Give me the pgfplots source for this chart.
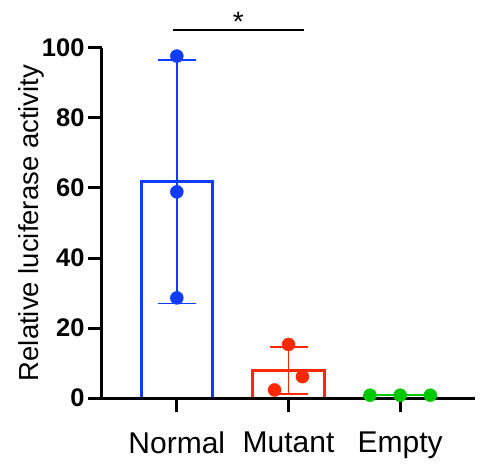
\documentclass[border=0pt]{standalone}
\usepackage{pgfplots}
\pgfplotsset{compat=1.18}
\usepackage{fontspec}
\setmainfont{Liberation Sans}
\definecolor{nblue}{RGB}{15,60,255}
\definecolor{mred}{RGB}{255,40,0}
\definecolor{egreen}{RGB}{0,200,0}
\begin{document}
\begin{tikzpicture}
\path[use as bounding box] (-102pt,-71pt) rectangle (385pt,398pt);
\begin{axis}[
  scale only axis, width=373pt, height=350pt,
  xmin=-0.67, xmax=2.67, ymin=0, ymax=100,
  axis x line=bottom, axis y line=left, axis on top,
  axis line style={-, line width=3pt},
  xtick={0,1,2}, xticklabels={Normal,Mutant,Empty},
  ytick={0,20,...,100},
  tick align=outside, major tick length=14pt,
  tick style={line width=3pt, black},
  x tick label style={font=\fontsize{30}{30}\selectfont, yshift=-16pt},
  y tick label style={font=\fontsize{25.5}{25.5}\selectfont\bfseries},
  /pgf/number format/assume math mode=true,
  ylabel={Relative luciferase activity},
  ylabel style={font=\fontsize{27.5}{27.5}\selectfont},
  ylabel shift=-9pt,
  clip=false,
]
% bars (mean)
\addplot[ybar, bar width=0.637, bar shift=0, draw=nblue, fill=none, line width=3pt] coordinates {(0,61.8)};
\addplot[ybar, bar width=0.637, bar shift=0, draw=mred, fill=none, line width=3pt] coordinates {(1,7.9)};
\addplot[ybar, bar width=0.637, bar shift=0, draw=egreen, fill=none, line width=2.5pt] coordinates {(2,0.8)};
% SD error bars
\addplot[draw=none, mark=none, error bars/.cd, y dir=both, y explicit, error mark=|,
  error bar style={draw=nblue, line width=1.8pt},
  error mark options={draw=nblue, line width=1.8pt, mark size=19pt}]
  coordinates {(0,61.8) +- (0,34.8)};
\addplot[draw=none, mark=none, error bars/.cd, y dir=both, y explicit, error mark=|,
  error bar style={draw=mred, line width=1.8pt},
  error mark options={draw=mred, line width=1.8pt, mark size=19pt}]
  coordinates {(1,7.9) +- (0,6.7)};
% replicates
\addplot[only marks, mark=*, mark size=6.5pt, nblue] coordinates {(0,97.7) (0,58.9) (0,28.6)};
\addplot[only marks, mark=*, mark size=6.5pt, mred] coordinates {(1,15.3) (1.125,6.1) (0.875,2.3)};
\addplot[only marks, mark=*, mark size=6.5pt, egreen] coordinates {(1.73,0.8) (2,0.8) (2.27,0.8)};
% significance
\draw[line width=2pt] (axis cs:-0.03,105.1) -- (axis cs:1.14,105.1);
\node[font=\fontsize{28}{28}\selectfont, anchor=base] at (axis cs:0.55,104.6) {*};
\end{axis}
\end{tikzpicture}
\end{document}
